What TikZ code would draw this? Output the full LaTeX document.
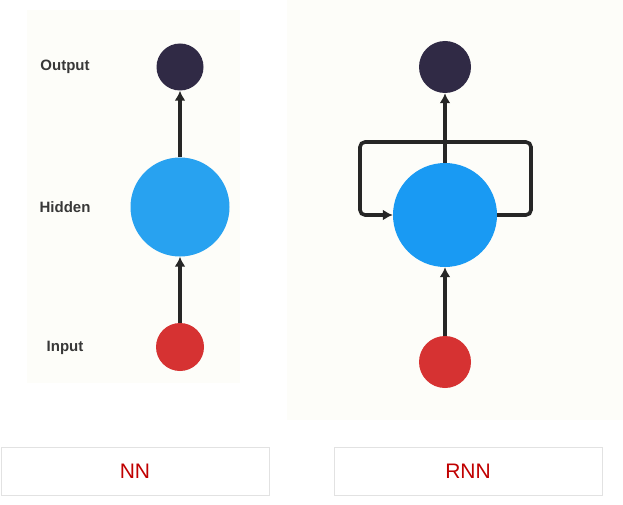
\documentclass[tikz,border=0pt]{standalone}
\usepackage{fontspec}
\setmainfont{Liberation Sans}
\usepackage{tikz}
\usetikzlibrary{arrows.meta,positioning}
\definecolor{outcol}{HTML}{302A45}
\definecolor{hidcol}{HTML}{28A2F0}
\definecolor{rhidcol}{HTML}{199AF3}
\definecolor{incol}{HTML}{D63232}
\definecolor{panel}{HTML}{FDFDF9}
\definecolor{boxline}{HTML}{E2E2E2}
\definecolor{tagred}{HTML}{C00000}
\newcommand{\Layer}[1]{\textbf{\textcolor{black!78}{#1}}}

\begin{document}
\begin{tikzpicture}[x=1pt,y=-1pt,
  unit/.style={circle,inner sep=0pt,minimum size=#1},
  link/.style={-{Latex[length=10pt,width=11pt]},line width=3.6pt,draw=black!85},
  tag/.style={draw=boxline,line width=1pt,minimum width=268pt,minimum height=48pt,font=\fontsize{21}{24}\selectfont,text=tagred}]
\useasboundingbox (0,0) rectangle (623,505);
% \draw[help lines,step=50] (0,0) grid (623,505);
\fill[panel] (27,10) rectangle (240,383);
\fill[panel] (287,0) rectangle (623,420);
%
\node (no) [unit=47pt,fill=outcol] at (180,67) {};
\node (nh) [unit=99pt,fill=hidcol] at (180,207) {};
\node (ni) [unit=48pt,fill=incol] at (180,347) {};
\node (lo) at (65,67) {\fontsize{15}{17}\selectfont\Layer{Output}};
\node (lh) at (65,207) {\fontsize{15}{17}\selectfont\Layer{Hidden}};
\node (li) at (65,348) {\fontsize{15}{17}\selectfont\Layer{Input}};
%
\node (ro) [unit=52pt,fill=outcol] at (445,67) {};
\node (rh) [unit=104pt,fill=rhidcol] at (445,215) {};
\node (ri) [unit=52pt,fill=incol] at (445,362) {};
\coordinate (c1) at (531,215);
\coordinate (c2) at (531,142);
\coordinate (c3) at (360,142);
\coordinate (c4) at (360,215);
%
\draw[link] (ni) -- (nh);
\draw[link] (nh) -- (no);
\draw[link] (ri) -- (rh);
\draw[link] (rh) -- (ro);
\draw[link,rounded corners=5pt] (rh.east) -- (c1) -- (c2) -- (c3) -- (c4) -- (rh.west);
%
\node (nn) [tag] at (135,471) {NN};
\node (rnn) [tag] at (468,471) {RNN};
\end{tikzpicture}
\end{document}
